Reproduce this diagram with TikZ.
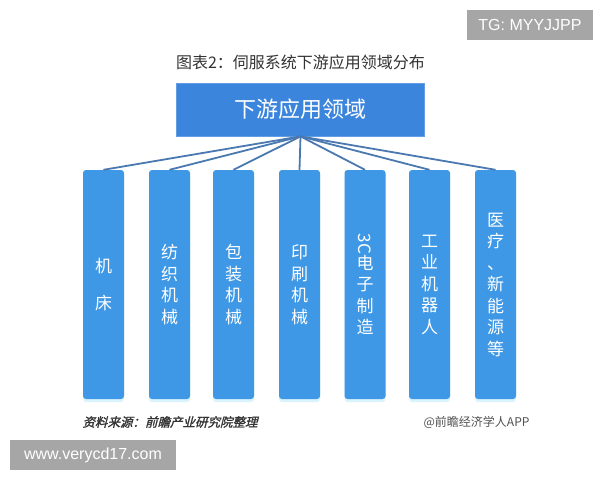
\documentclass[tikz,border=0pt]{standalone}
\usepackage{fontspec}
\setmainfont{Liberation Sans}
\newfontfamily\cjk{Noto Sans CJK SC}
\newfontfamily\cjksrc{Noto Sans CJK SC}[FakeSlant=0.25,FakeBold=1.5]
\usetikzlibrary{shadows}
\definecolor{topblue}{HTML}{3C85DD}
\definecolor{childblue}{HTML}{3E98E6}
\definecolor{linkblue}{HTML}{4A78B0}
\definecolor{wmgray}{HTML}{A6A6A6}
\definecolor{txtdark}{HTML}{333333}
\tikzset{
  topbox/.style={fill=topblue, draw=topblue!80!white, line width=0.8pt, minimum width=248pt, minimum height=53pt, text=white, font=\cjk\fontsize{22}{26}\selectfont},
  childbox/.style={fill=childblue, draw=none, rounded corners=3pt, minimum width=41pt, minimum height=229pt, text=white, align=center, font=\cjk\fontsize{17}{21.5}\selectfont, drop shadow={fill=cyan!18, shadow xshift=0pt, shadow yshift=-3pt, opacity=0.8}},
  link/.style={draw=linkblue, line width=1.8pt},
  wmbox/.style={fill=wmgray, text=white, inner sep=0pt, font=\fontsize{16}{18}\selectfont},
  caption/.style={text=txtdark, font=\cjk\fontsize{16}{18}\selectfont},
}
\begin{document}
\begin{tikzpicture}[x=1pt,y=-1pt]
\useasboundingbox[fill=white] (0,0) rectangle (600,480);
\node[wmbox, minimum width=126pt, minimum height=30pt] (tg) at (530,25) {TG: MYYJJPP};
\node[caption] (title) at (300.5,62) {图表2：伺服系统下游应用领域分布};
\node[topbox] (top) at (300.5,109.5) {下游应用领域};
\node[childbox] (c1) at (103.5,284.5) {机\\[16pt]床};
\node[childbox] (c2) at (169.5,284.5) {纺\\织\\机\\械};
\node[childbox] (c3) at (233.5,284.5) {包\\装\\机\\械};
\node[childbox] (c4) at (299.5,284.5) {印\\刷\\机\\械};
\node[childbox] (c5) at (365,284.5) {\rotatebox{-90}{3C}\\电\\子\\制\\造};
\node[childbox] (c6) at (429.5,284.5) {工\\业\\机\\器\\人};
\node[childbox] (c7) at (495.5,284.5) {医\\疗\\、\\新\\能\\源\\等};
\foreach \c in {c1,c2,c3,c4,c5,c6,c7} \draw[link] (top.south) -- (\c.north);
\node[text=txtdark, font=\cjksrc\fontsize{12.5}{14}\selectfont, anchor=west] (src) at (79,422) {资料来源：前瞻产业研究院整理};
\node[text=txtdark!85, font=\cjk\fontsize{12}{14}\selectfont, anchor=east] (app) at (533,422) {@前瞻经济学人APP};
\node[wmbox, minimum width=166pt, minimum height=30pt] (www) at (93,455) {www.verycd17.com};
\end{tikzpicture}
\end{document}
